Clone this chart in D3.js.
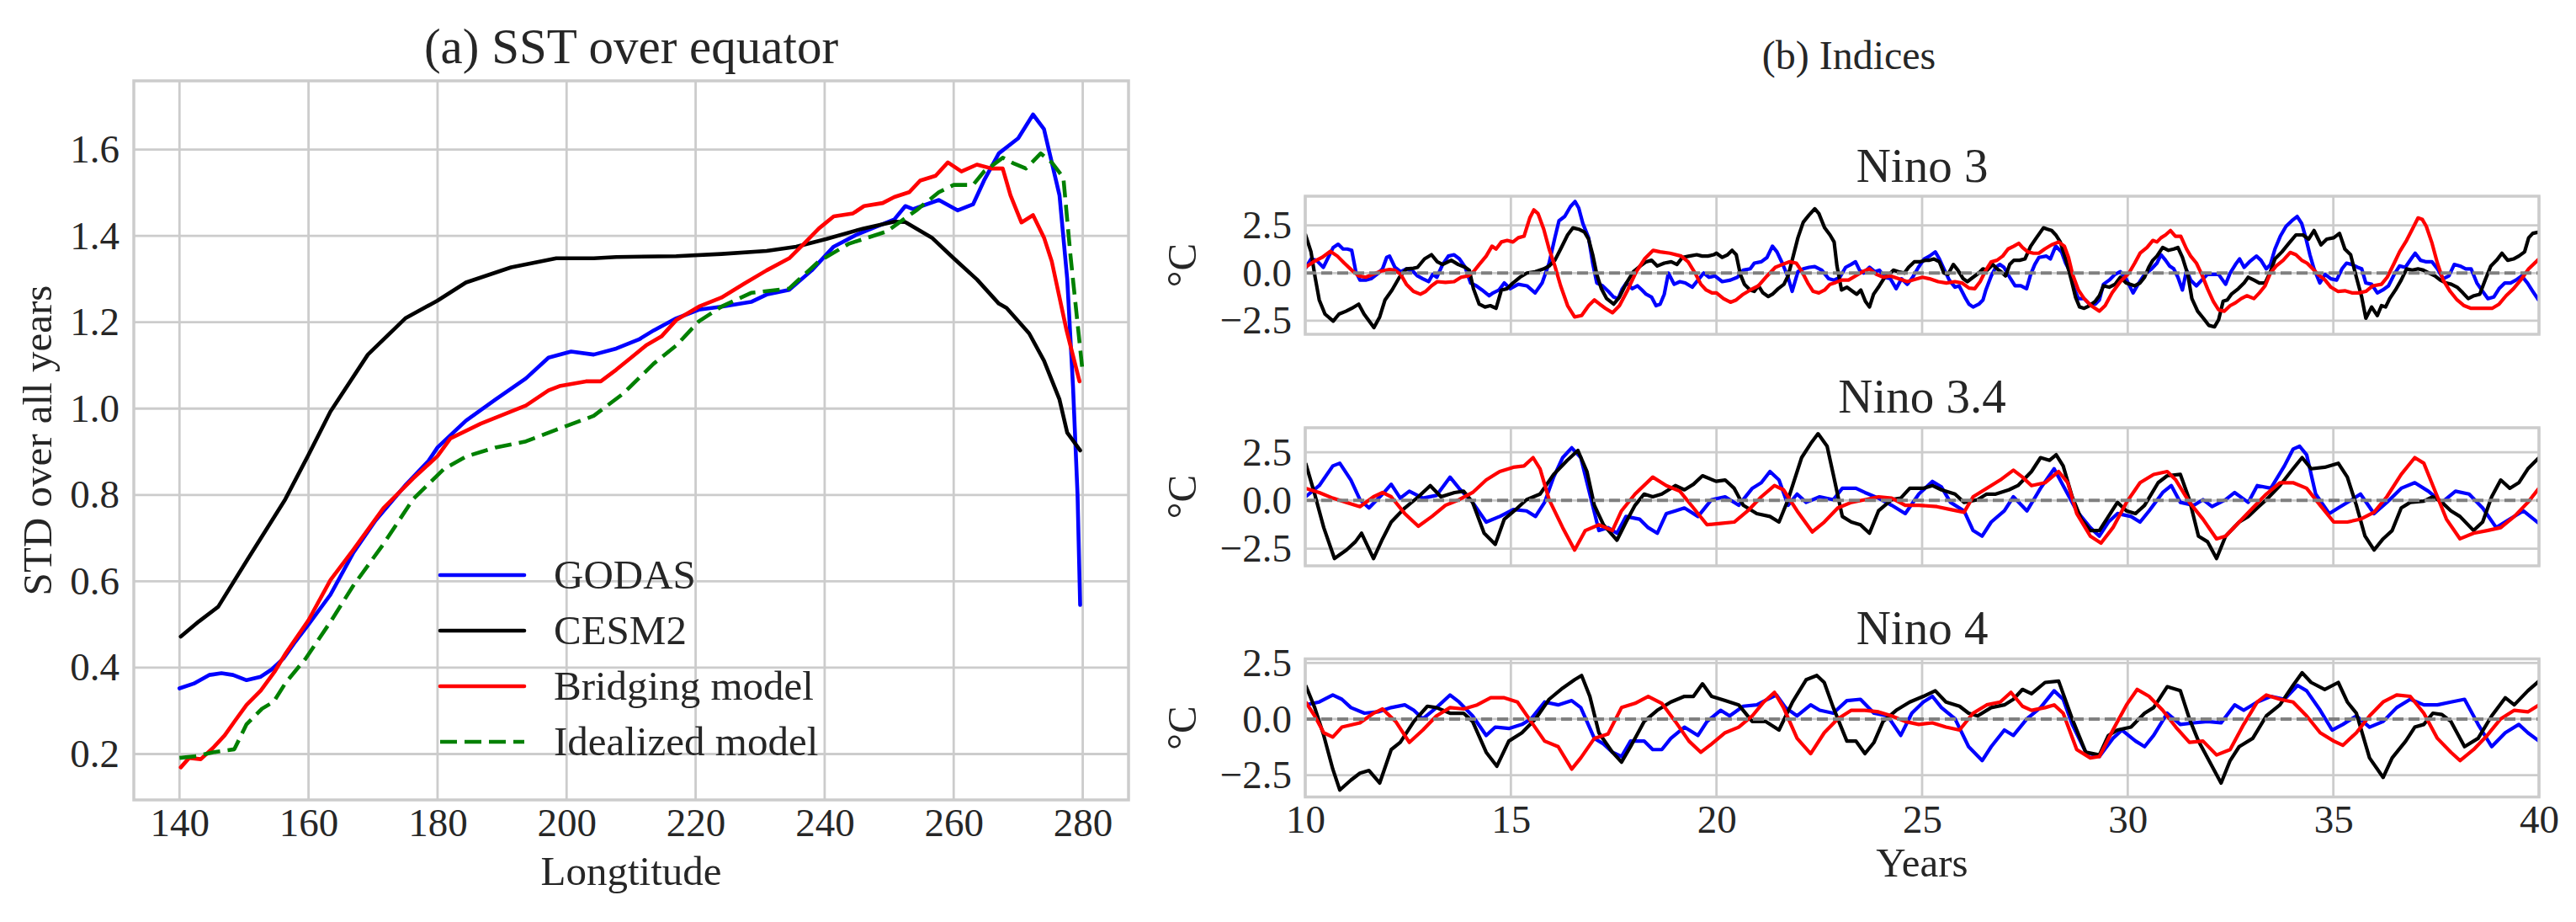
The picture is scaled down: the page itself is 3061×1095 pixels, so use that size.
<!DOCTYPE html>
<html><head><meta charset="utf-8">
<script src="https://cdn.jsdelivr.net/npm/d3@7"></script>
<style>
body{margin:0;background:#fff}
svg{display:block}
text{font-family:"Liberation Serif","Times New Roman",serif;fill:#262626}
</style>
</head><body>
<svg id="chart" width="3061" height="1095"></svg>
<script>
// ---------------- DATA: panel (a) ----------------
const seriesNames = ["GODAS", "CESM2", "Bridging model", "Idealized model"];
const lonTicks = [140, 160, 180, 200, 220, 240, 260, 280];
const stdTicks = [0.2, 0.4, 0.6, 0.8, 1.0, 1.2, 1.4, 1.6];

const godasLon = [140,142.2,144.6,146.5,148.3,150.4,152.6,154.3,156.1,157.8,160,163.4,166.9,170.4,175.1,178.6,180,184.4,189,193.7,197.2,200.7,204.2,207.7,211.2,213.5,217,220.5,224,228.6,231,234.5,238,241.4,245,247.3,250.8,252.5,253.7,257.7,260.6,263,264.7,267,270,272.3,274,276.4,277.6,278.5,279.2,279.6];
const godasStd = [0.352,0.363,0.383,0.387,0.383,0.371,0.379,0.396,0.421,0.457,0.50,0.569,0.665,0.741,0.824,0.879,0.91,0.972,1.021,1.07,1.118,1.132,1.125,1.139,1.16,1.181,1.209,1.229,1.236,1.247,1.264,1.275,1.32,1.375,1.403,1.417,1.438,1.469,1.462,1.483,1.459,1.473,1.528,1.591,1.626,1.681,1.647,1.494,1.30,1.05,0.80,0.545];

const cesmLon = [140.2,143,146,150.6,156.4,160,163.4,169.2,175,180,184.4,191.4,198.4,204.2,207.7,217,224,231,235.6,240.3,246,250.8,252.5,256.6,260,263.6,267,268.2,271.7,274,276.4,277.6,279.6];
const cesmStd = [0.472,0.507,0.541,0.652,0.79,0.893,0.993,1.125,1.209,1.25,1.292,1.327,1.348,1.348,1.351,1.353,1.358,1.365,1.375,1.393,1.417,1.433,1.432,1.396,1.348,1.299,1.243,1.233,1.174,1.111,1.021,0.944,0.903];

const bridgeLon = [140.2,141.5,143.3,145.2,147,148.7,150.4,152.6,154.8,156.5,160,163.4,166.9,171.6,176.2,180,182,186.7,190.2,193.7,197.2,198.9,203,205.3,207.7,210,212.3,214.7,217,220.5,224,227.5,231,234.5,236.8,239.1,241.4,244.4,246.1,249,250.8,253.1,254.8,257.2,259.1,261.2,263.6,265.9,267.6,268.8,270.5,272.3,274,275.2,277.5,279.5];
const bridgeStd = [0.169,0.191,0.188,0.214,0.243,0.279,0.314,0.347,0.392,0.434,0.51,0.603,0.672,0.769,0.838,0.89,0.931,0.965,0.986,1.007,1.042,1.052,1.063,1.063,1.09,1.118,1.146,1.167,1.205,1.236,1.257,1.289,1.32,1.348,1.382,1.417,1.445,1.452,1.469,1.476,1.49,1.501,1.528,1.539,1.57,1.549,1.565,1.556,1.556,1.494,1.431,1.448,1.396,1.341,1.181,1.063];

const idealLon = [140,142.6,145.2,147,148.5,150.4,152.8,154.6,156.5,159.5,163.4,166.9,171.6,176.2,180.9,184.4,189,193.7,198.4,204.2,208.8,213.5,217,220.5,224,228.6,234.5,239.1,243.8,249.6,254.2,257.7,260,263,264.7,267.6,269.4,271.2,273.5,275.2,277,278.1,279.9];
const idealStd = [0.191,0.195,0.204,0.208,0.211,0.269,0.305,0.321,0.366,0.42,0.506,0.589,0.686,0.79,0.859,0.889,0.91,0.924,0.951,0.983,1.035,1.104,1.146,1.202,1.236,1.268,1.278,1.341,1.382,1.41,1.459,1.501,1.518,1.518,1.549,1.581,1.567,1.556,1.591,1.57,1.535,1.355,1.097];

// ---------------- DATA: panel (b) ----------------
const indexNames = ["Nino 3", "Nino 3.4", "Nino 4"];
const yearTicks = [10, 15, 20, 25, 30, 35, 40];
const degTicks = [-2.5, 0, 2.5];

const nino3Godas = [[10,0.22],[10.14,0.74],[10.27,0.67],[10.44,0.3],[10.68,1.34],[10.8,1.51],[10.92,1.26],[11.02,1.26],[11.13,1.19],[11.23,0.07],[11.33,-0.37],[11.47,-0.37],[11.6,-0.3],[11.74,-0.07],[11.88,0.22],[11.98,0.82],[12.05,0.89],[12.18,0.3],[12.32,0.07],[12.46,0.22],[12.63,0.07],[12.73,-0.15],[12.86,-0.3],[13.0,-0.45],[13.1,-0.07],[13.2,-0.22],[13.34,0.45],[13.48,0.89],[13.62,0.96],[13.75,0.74],[13.89,0.3],[14.02,-0.52],[14.16,-0.67],[14.3,-0.89],[14.47,-1.19],[14.57,-1.04],[14.71,-0.89],[14.84,-0.52],[14.98,-0.82],[15.18,-0.59],[15.39,-0.67],[15.59,-1.04],[15.76,-0.52],[15.93,0.52],[16.07,1.85],[16.17,2.74],[16.31,2.97],[16.45,3.49],[16.56,3.75],[16.65,3.41],[16.75,2.6],[16.89,1.85],[16.99,0.52],[17.09,-0.52],[17.23,-0.67],[17.37,-0.96],[17.5,-1.26],[17.61,-1.34],[17.71,-0.82],[17.81,-0.52],[17.95,-0.82],[18.08,-0.67],[18.19,-0.89],[18.29,-1.11],[18.42,-1.26],[18.53,-1.71],[18.63,-1.63],[18.73,-1.11],[18.83,0],[18.97,-0.59],[19.11,-0.45],[19.24,-0.52],[19.41,-0.74],[19.55,-0.37],[19.69,0],[19.82,-0.22],[19.96,-0.15],[20.14,-0.45],[20.34,-0.37],[20.51,-0.22],[20.65,0.15],[20.82,0.22],[20.92,0.52],[21.09,0.59],[21.23,0.82],[21.36,1.41],[21.47,1.11],[21.6,0.52],[21.74,-0.22],[21.84,-0.96],[21.98,0.07],[22.11,0.22],[22.25,0.3],[22.39,0.34],[22.56,0.15],[22.73,-0.3],[22.86,-0.37],[23.0,-0.22],[23.14,0.3],[23.27,0.45],[23.38,0.59],[23.48,0.15],[23.58,0],[23.72,0.3],[23.85,0.07],[23.96,0.15],[24.09,-0.22],[24.23,-0.3],[24.37,-0.82],[24.5,-0.3],[24.64,-0.59],[24.77,-0.22],[24.91,0.3],[25.05,0.74],[25.18,0.89],[25.32,1.11],[25.42,0.74],[25.53,0.22],[25.66,-0.37],[25.8,-0.74],[25.9,-0.67],[26.04,-1.26],[26.14,-1.63],[26.24,-1.78],[26.38,-1.63],[26.48,-1.41],[26.55,-0.89],[26.68,-0.15],[26.79,0.3],[26.89,0.45],[26.99,0.3],[27.13,-0.22],[27.26,-0.67],[27.4,-0.67],[27.54,-0.82],[27.64,-0.07],[27.74,0.45],[27.84,0.82],[28.02,0.89],[28.12,0.74],[28.19,1.11],[28.25,1.41],[28.39,1.11],[28.49,0.52],[28.6,0.07],[28.7,-0.82],[28.8,-1.34],[28.94,-1.34],[29.07,-1.63],[29.21,-1.63],[29.31,-1.41],[29.41,-0.59],[29.55,-0.37],[29.69,-0.07],[29.82,0.07],[29.96,-0.3],[30.13,-1.04],[30.27,-0.52],[30.41,-0.07],[30.58,0.22],[30.71,0.52],[30.81,0.96],[30.92,0.67],[31.02,0.37],[31.12,0.22],[31.22,-0.22],[31.33,-0.89],[31.43,0.15],[31.53,-0.37],[31.67,-0.67],[31.8,-0.37],[31.94,-0.07],[32.08,-0.07],[32.21,-0.07],[32.38,-0.59],[32.49,0],[32.62,0.45],[32.72,0.74],[32.83,0.3],[32.96,0.59],[33.13,0.89],[33.24,0.67],[33.37,0.22],[33.47,0.45],[33.58,1.26],[33.71,1.93],[33.85,2.45],[33.99,2.74],[34.12,2.97],[34.23,2.6],[34.33,1.85],[34.43,0.96],[34.53,0.22],[34.67,-0.52],[34.8,-0.07],[34.94,-0.3],[35.08,-0.37],[35.21,0.22],[35.32,0.52],[35.45,0.45],[35.59,0.3],[35.69,0.22],[35.79,-0.52],[35.93,-0.59],[36.07,-1.04],[36.2,-0.89],[36.34,-0.67],[36.48,-0.07],[36.61,0.37],[36.75,0.3],[36.89,0.74],[36.99,1.04],[37.12,0.67],[37.26,0.59],[37.4,0.59],[37.53,0.22],[37.67,-0.3],[37.81,-0.15],[37.94,0.45],[38.08,0.37],[38.22,0.22],[38.35,0.22],[38.49,-0.52],[38.63,-0.96],[38.76,-1.34],[38.9,-1.26],[39.03,-0.82],[39.17,-0.52],[39.31,-0.52],[39.44,-0.37],[39.58,-0.15],[39.72,-0.52],[39.85,-0.96],[40,-1.45]];
const nino3Cesm = [[10,2.05],[10.14,1.11],[10.24,-0.22],[10.34,-1.41],[10.48,-2.15],[10.68,-2.52],[10.82,-2.15],[10.99,-2.0],[11.13,-1.85],[11.3,-1.63],[11.43,-2.15],[11.67,-2.86],[11.81,-2.3],[11.94,-1.41],[12.11,-0.89],[12.29,-0.22],[12.46,0.22],[12.63,0.25],[12.73,0.3],[12.9,0.74],[13.07,0.96],[13.21,0.59],[13.34,0.45],[13.55,0.67],[13.72,0.45],[13.89,0.3],[13.99,0.15],[14.09,-0.82],[14.23,-1.63],[14.37,-1.78],[14.5,-1.71],[14.64,-1.85],[14.77,-0.89],[14.91,-0.82],[15.05,-0.52],[15.22,-0.22],[15.39,0],[15.59,0.07],[15.8,0.22],[15.93,0.37],[16.07,0.67],[16.21,1.26],[16.38,2.0],[16.51,2.37],[16.65,2.3],[16.79,2.15],[16.89,1.78],[16.99,0.96],[17.09,-0.07],[17.2,-0.82],[17.33,-1.34],[17.5,-1.63],[17.64,-1.26],[17.81,-0.52],[17.98,0.07],[18.15,0.37],[18.29,0.59],[18.42,0.67],[18.56,0.37],[18.73,0.52],[18.9,0.59],[19.04,0.45],[19.17,0.82],[19.34,0.89],[19.52,0.96],[19.65,0.89],[19.79,0.89],[19.93,0.96],[20.0,1.04],[20.14,0.82],[20.27,0.96],[20.38,1.19],[20.48,0.96],[20.58,-0.07],[20.68,-0.59],[20.82,-0.89],[20.92,-0.96],[21.02,-0.67],[21.13,-1.04],[21.26,-1.23],[21.36,-1.11],[21.5,-0.82],[21.64,-0.59],[21.74,-0.15],[21.84,0.67],[21.98,1.85],[22.11,2.67],[22.25,3.04],[22.39,3.37],[22.49,3.12],[22.63,2.37],[22.76,2.0],[22.86,1.63],[22.93,0.37],[23.04,-0.89],[23.17,-0.74],[23.31,-0.96],[23.41,-1.11],[23.51,-0.89],[23.62,-1.48],[23.72,-1.78],[23.82,-1.11],[23.96,-0.67],[24.09,-0.22],[24.2,-0.07],[24.3,0.15],[24.43,0.07],[24.57,0],[24.67,0.3],[24.81,0.59],[24.95,0.59],[25.08,0.67],[25.18,0.67],[25.29,0.74],[25.42,0.59],[25.53,0],[25.63,-0.07],[25.76,0.45],[25.87,0.15],[26.0,-0.3],[26.1,-0.45],[26.24,-0.22],[26.38,0],[26.48,0.22],[26.58,0.15],[26.72,0.45],[26.82,0.22],[26.92,0.07],[27.03,-0.15],[27.13,0.45],[27.23,0.67],[27.37,0.67],[27.5,0.74],[27.64,1.41],[27.78,1.85],[27.95,2.37],[28.05,2.3],[28.15,2.23],[28.25,2.0],[28.36,1.63],[28.49,0.74],[28.63,-0.37],[28.73,-1.26],[28.83,-1.78],[28.94,-1.85],[29.07,-1.71],[29.21,-1.48],[29.31,-1.19],[29.41,-0.67],[29.55,-0.74],[29.69,-0.59],[29.82,-0.22],[29.96,-0.52],[30.17,-0.67],[30.3,-0.52],[30.41,-0.22],[30.51,0.3],[30.61,0.67],[30.71,0.89],[30.85,1.34],[30.99,1.19],[31.12,1.26],[31.22,1.34],[31.33,0.82],[31.46,-0.07],[31.56,-1.34],[31.7,-2.0],[31.84,-2.37],[31.97,-2.74],[32.11,-2.82],[32.21,-2.45],[32.32,-1.48],[32.42,-1.41],[32.52,-1.11],[32.69,-0.82],[32.83,-0.52],[32.93,-0.22],[33.07,-0.37],[33.2,-0.52],[33.34,-0.52],[33.47,0.07],[33.58,0.74],[33.75,1.11],[33.92,1.56],[34.09,2.0],[34.26,2.0],[34.4,1.78],[34.53,2.23],[34.7,1.48],[34.84,1.78],[35.01,1.85],[35.15,2.08],[35.28,1.26],[35.42,0.96],[35.56,-0.22],[35.69,-1.26],[35.79,-2.37],[35.93,-1.78],[36.07,-2.23],[36.17,-1.71],[36.27,-1.78],[36.37,-1.34],[36.51,-0.89],[36.65,-0.37],[36.78,0.22],[36.92,0.15],[37.06,0.22],[37.19,0.15],[37.33,0],[37.47,-0.15],[37.6,-0.37],[37.74,-0.52],[37.87,-0.59],[38.01,-0.74],[38.15,-1.04],[38.28,-1.34],[38.42,-1.19],[38.56,-1.11],[38.69,-0.37],[38.83,0.37],[38.97,0.67],[39.1,1.04],[39.24,0.67],[39.38,0.74],[39.51,0.89],[39.65,1.11],[39.75,1.85],[39.85,2.08],[40,2.15]];
const nino3Bridge = [[10,0.3],[10.2,0.59],[10.41,0.82],[10.61,1.14],[10.78,0.89],[10.95,0.52],[11.13,0.15],[11.3,-0.15],[11.47,-0.22],[11.64,-0.07],[11.84,0.1],[12.05,0.19],[12.18,0.15],[12.32,-0.07],[12.46,-0.59],[12.63,-0.96],[12.8,-1.11],[12.93,-0.96],[13.07,-0.67],[13.21,-0.45],[13.41,-0.49],[13.62,-0.45],[13.79,-0.22],[13.96,-0.15],[14.09,0.07],[14.23,0.45],[14.4,0.89],[14.54,1.41],[14.64,1.26],[14.77,1.63],[14.91,1.71],[15.05,1.63],[15.18,1.85],[15.32,1.93],[15.46,2.89],[15.56,3.31],[15.66,3.12],[15.8,2.3],[15.93,1.26],[16.07,0.37],[16.21,-0.67],[16.38,-1.71],[16.55,-2.3],[16.72,-2.23],[16.89,-1.71],[17.03,-1.41],[17.16,-1.63],[17.3,-1.85],[17.47,-2.08],[17.64,-1.71],[17.84,-0.89],[18.05,0.07],[18.25,0.74],[18.46,1.19],[18.63,1.11],[18.87,1.04],[19.14,0.89],[19.31,0.59],[19.48,0],[19.62,-0.59],[19.75,-0.89],[19.89,-1.04],[20.0,-1.04],[20.17,-1.34],[20.34,-1.53],[20.48,-1.41],[20.65,-1.11],[20.82,-0.89],[21.02,-0.67],[21.23,-0.15],[21.43,0.3],[21.6,0.45],[21.77,0.59],[21.94,0.52],[22.08,0.07],[22.22,-0.52],[22.35,-0.96],[22.49,-1.04],[22.63,-0.89],[22.76,-0.59],[22.9,-0.49],[23.04,-0.37],[23.21,-0.37],[23.38,-0.15],[23.55,0.07],[23.72,0.22],[23.89,-0.07],[24.06,-0.22],[24.23,-0.15],[24.43,-0.3],[24.64,-0.45],[24.81,-0.34],[25.01,-0.22],[25.18,-0.3],[25.39,-0.45],[25.59,-0.52],[25.8,-0.45],[25.97,-0.52],[26.14,-0.79],[26.28,-0.82],[26.41,-0.45],[26.55,0.15],[26.68,0.59],[26.82,0.67],[26.96,0.89],[27.09,1.26],[27.23,1.41],[27.35,1.56],[27.44,1.34],[27.57,1.11],[27.71,1.04],[27.84,1.04],[27.98,1.26],[28.15,1.48],[28.32,1.63],[28.46,1.41],[28.56,0.82],[28.66,-0.07],[28.8,-0.89],[28.94,-1.34],[29.11,-1.71],[29.31,-2.0],[29.45,-1.71],[29.62,-1.04],[29.82,-0.45],[30.03,0],[30.17,0.52],[30.3,1.04],[30.47,1.34],[30.61,1.71],[30.71,1.63],[30.81,1.85],[30.92,2.0],[31.04,2.23],[31.16,1.93],[31.29,1.93],[31.43,1.26],[31.53,0.89],[31.67,0.52],[31.8,-0.07],[31.94,-0.82],[32.08,-1.48],[32.21,-1.93],[32.35,-2.0],[32.49,-1.71],[32.62,-1.56],[32.76,-1.34],[32.9,-1.19],[33.07,-1.34],[33.2,-1.04],[33.34,-0.67],[33.47,0],[33.61,0.37],[33.78,0.67],[33.95,1.08],[34.09,0.96],[34.23,0.67],[34.36,0.52],[34.5,0.22],[34.63,-0.07],[34.8,-0.37],[34.94,-0.74],[35.11,-0.96],[35.28,-0.93],[35.45,-1.04],[35.62,-1.04],[35.79,-0.96],[35.96,-0.67],[36.17,-0.59],[36.31,-0.22],[36.48,0.52],[36.61,1.11],[36.78,1.71],[36.92,2.3],[37.06,2.89],[37.16,2.82],[37.26,2.45],[37.4,1.56],[37.53,0.52],[37.67,-0.37],[37.84,-0.96],[38.01,-1.41],[38.18,-1.71],[38.35,-1.85],[38.52,-1.85],[38.69,-1.85],[38.86,-1.85],[39.03,-1.63],[39.2,-1.19],[39.38,-0.82],[39.58,-0.3],[39.75,0.22],[40,0.74]];

const nino34Godas = [[10.01,0.19],[10.34,0.77],[10.67,1.79],[10.84,1.93],[11.11,1.06],[11.33,0.04],[11.55,-0.39],[11.88,0.33],[12.09,0.84],[12.31,0.12],[12.53,0.48],[12.86,0.12],[13.19,0.26],[13.52,1.21],[13.74,0.63],[14.07,-0.1],[14.4,-1.12],[14.73,-0.83],[15.06,-0.47],[15.38,-0.54],[15.6,-0.83],[15.82,-0.1],[16.04,1.21],[16.26,2.22],[16.48,2.73],[16.7,2.22],[16.92,0.33],[17.14,-1.56],[17.36,-1.41],[17.58,-1.7],[17.8,-0.83],[18.13,-0.97],[18.34,-1.41],[18.56,-1.7],[18.78,-0.68],[19.0,-0.54],[19.22,-0.39],[19.55,-0.83],[19.88,0.04],[20.21,0.19],[20.54,-0.25],[20.87,0.63],[21.09,0.92],[21.3,1.5],[21.52,1.06],[21.74,-0.25],[21.96,0.33],[22.18,-0.1],[22.51,0.19],[22.84,0.04],[23.06,0.63],[23.39,0.63],[23.61,0.41],[23.94,0.12],[24.26,-0.25],[24.59,-0.68],[24.92,0.33],[25.25,0.99],[25.47,0.7],[25.69,-0.1],[26.02,-0.54],[26.24,-1.56],[26.46,-1.85],[26.68,-1.12],[27.0,-0.54],[27.22,0.19],[27.55,-0.54],[27.88,0.63],[28.21,1.64],[28.43,0.77],[28.76,-0.54],[29.09,-1.41],[29.31,-1.85],[29.53,-1.12],[29.75,-0.68],[30.08,-0.83],[30.3,-1.12],[30.52,-0.54],[30.85,0.41],[31.06,0.77],[31.28,-0.1],[31.61,-0.25],[31.83,0.04],[32.05,-0.32],[32.38,0.04],[32.6,0.41],[32.93,-0.1],[33.15,0.77],[33.48,0.63],[33.81,1.79],[34.02,2.66],[34.18,2.81],[34.35,2.37],[34.57,0.33],[34.9,-0.68],[35.12,-0.39],[35.45,0.04],[35.66,0.33],[35.99,-0.68],[36.3,-0.1],[36.65,0.63],[36.98,0.92],[37.31,0.48],[37.64,-0.1],[37.97,0.48],[38.3,0.33],[38.63,-0.39],[38.96,-1.41],[39.29,-0.97],[39.62,-0.54],[40,-1.19]];
const nino34Cesm = [[10.01,1.93],[10.23,0.33],[10.45,-1.41],[10.71,-3.01],[11.0,-2.57],[11.22,-2.14],[11.37,-1.7],[11.66,-3.01],[11.88,-1.99],[12.09,-1.12],[12.42,-0.39],[12.75,0.19],[13.04,0.77],[13.3,0.19],[13.63,0.41],[13.85,0.48],[14.07,-0.1],[14.35,-1.7],[14.62,-2.28],[14.84,-0.97],[15.16,-0.39],[15.38,0.04],[15.71,0.33],[16.04,1.35],[16.37,2.08],[16.63,2.59],[16.85,1.5],[17.03,-0.25],[17.25,-1.26],[17.58,-2.06],[17.8,-1.12],[18.02,-0.25],[18.24,0.33],[18.45,0.19],[18.67,0.33],[19.0,0.77],[19.22,0.55],[19.44,0.84],[19.66,1.28],[19.99,0.99],[20.21,1.06],[20.43,0.63],[20.65,-0.25],[20.98,-0.68],[21.3,-0.83],[21.52,-1.12],[21.74,0.04],[22.07,2.22],[22.29,2.95],[22.47,3.46],[22.69,2.81],[22.84,1.35],[23.06,-0.83],[23.28,-1.12],[23.5,-1.26],[23.72,-1.7],[23.94,-0.54],[24.26,0.04],[24.48,0.12],[24.7,0.63],[25.03,0.63],[25.25,0.77],[25.47,0.55],[25.8,0.33],[26.02,-0.1],[26.35,0.04],[26.57,0.33],[26.79,0.33],[27.11,0.55],[27.33,0.77],[27.66,1.5],[27.88,2.22],[28.1,2.08],[28.26,2.37],[28.43,1.79],[28.65,0.19],[28.87,-0.97],[29.09,-1.56],[29.31,-1.56],[29.53,-0.83],[29.75,-0.1],[29.97,-0.54],[30.19,-0.68],[30.41,-0.25],[30.74,0.92],[30.96,1.28],[31.28,1.35],[31.5,0.04],[31.72,-1.85],[31.94,-2.14],[32.16,-3.01],[32.38,-1.85],[32.71,-1.12],[32.93,-0.83],[33.15,-0.39],[33.37,0.04],[33.7,0.77],[34.02,1.64],[34.24,2.22],[34.46,1.64],[34.79,1.72],[35.12,1.93],[35.34,1.21],[35.56,-0.25],[35.77,-1.85],[35.99,-2.57],[36.21,-1.99],[36.43,-1.56],[36.65,-0.39],[36.87,-0.1],[37.2,-0.03],[37.42,0.19],[37.64,-0.1],[37.86,-0.54],[38.08,-0.83],[38.41,-1.56],[38.63,-1.12],[38.85,0.19],[39.07,1.06],[39.29,0.63],[39.51,0.92],[39.73,1.64],[40,2.22]];
const nino34Bridge = [[10.01,0.63],[10.34,0.41],[10.67,0.12],[11.0,-0.1],[11.33,-0.32],[11.66,0.19],[11.88,0.41],[12.09,0.19],[12.42,-0.68],[12.75,-1.34],[13.08,-0.83],[13.41,-0.25],[13.74,0.04],[14.07,0.41],[14.4,1.06],[14.73,1.5],[15.06,1.72],[15.32,1.79],[15.54,2.22],[15.71,1.64],[15.93,0.04],[16.26,-1.41],[16.55,-2.57],[16.81,-1.56],[17.14,-1.26],[17.47,-1.56],[17.69,-0.54],[18.02,0.33],[18.45,1.21],[18.78,0.77],[19.11,0.48],[19.44,-0.39],[19.77,-1.26],[20.1,-1.19],[20.43,-1.12],[20.76,-0.54],[21.09,0.19],[21.41,0.77],[21.63,0.55],[21.96,-0.54],[22.33,-1.63],[22.62,-1.12],[22.95,-0.39],[23.28,-0.1],[23.61,0.04],[23.94,0.19],[24.26,0.12],[24.59,-0.25],[24.92,-0.25],[25.36,-0.32],[25.69,-0.47],[26.02,-0.61],[26.24,0.19],[26.57,0.63],[26.9,1.06],[27.22,1.57],[27.44,1.21],[27.66,0.77],[27.99,0.92],[28.32,1.5],[28.54,0.92],[28.76,-0.68],[29.09,-1.85],[29.35,-2.21],[29.64,-1.41],[29.97,-0.1],[30.3,0.92],[30.63,1.35],[30.96,1.5],[31.17,1.06],[31.5,-0.1],[31.83,-0.97],[32.16,-1.99],[32.38,-1.85],[32.71,-1.12],[33.04,-0.39],[33.37,0.33],[33.7,0.92],[34.02,0.92],[34.35,0.63],[34.68,-0.25],[35.01,-1.12],[35.34,-1.12],[35.66,-0.97],[35.99,-0.61],[36.3,0.19],[36.65,1.35],[36.98,2.22],[37.2,1.93],[37.42,0.77],[37.75,-0.97],[38.08,-1.99],[38.41,-1.7],[38.74,-1.56],[39.07,-1.41],[39.4,-0.83],[39.73,-0.1],[40,0.63]];

const nino4Godas = [[10.01,0.63],[10.34,0.76],[10.67,1.07],[10.89,0.88],[11.11,0.51],[11.44,0.26],[11.77,0.32],[12.09,0.51],[12.42,0.63],[12.64,0.39],[12.86,0.01],[13.19,0.51],[13.52,1.07],[13.74,0.76],[14.07,0.14],[14.4,-0.73],[14.62,-0.36],[14.95,-0.42],[15.27,-0.24],[15.49,0.01],[15.82,0.76],[16.15,0.63],[16.48,0.82],[16.7,0.51],[17.03,-0.86],[17.25,-1.11],[17.47,-1.48],[17.69,-1.67],[17.91,-0.98],[18.24,-0.98],[18.45,-1.36],[18.67,-1.36],[18.89,-0.86],[19.22,-0.36],[19.55,-0.73],[19.77,-0.11],[20.1,0.39],[20.32,0.14],[20.65,0.57],[20.98,0.63],[21.24,0.88],[21.46,1.07],[21.68,0.51],[21.96,0.14],[22.29,0.63],[22.51,0.39],[22.84,0.26],[23.17,0.82],[23.5,0.88],[23.83,0.26],[24.16,0.14],[24.48,-0.73],[24.75,0.26],[25.03,0.76],[25.25,1.01],[25.47,0.51],[25.8,0.01],[26.13,-1.23],[26.46,-1.85],[26.68,-1.23],[27.0,-0.49],[27.22,-0.73],[27.55,0.01],[27.88,0.51],[28.21,1.26],[28.43,0.88],[28.65,-0.24],[28.98,-1.48],[29.31,-1.67],[29.64,-0.86],[29.86,-0.49],[30.19,-0.98],[30.41,-1.23],[30.63,-0.73],[30.96,0.26],[31.28,-0.24],[31.61,-0.17],[31.94,-0.11],[32.27,-0.17],[32.6,0.63],[32.82,0.39],[33.15,0.76],[33.48,1.01],[33.81,0.88],[34.13,1.5],[34.35,1.26],[34.68,0.39],[34.97,-0.49],[35.23,-0.24],[35.56,0.14],[35.88,-0.36],[36.21,-0.11],[36.54,0.51],[36.87,0.88],[37.2,0.63],[37.53,0.63],[37.86,0.76],[38.19,0.88],[38.52,-0.24],[38.85,-1.23],[39.18,-0.61],[39.51,-0.24],[39.73,-0.61],[40,-0.98]];
const nino4Cesm = [[10.01,1.5],[10.23,0.51],[10.45,-0.73],[10.67,-2.23],[10.84,-3.16],[11.11,-2.72],[11.33,-2.41],[11.55,-2.29],[11.81,-2.85],[12.09,-1.36],[12.31,-1.04],[12.64,-0.11],[12.97,0.57],[13.19,0.51],[13.52,0.26],[13.85,0.26],[14.07,-0.11],[14.4,-1.48],[14.66,-2.1],[14.95,-0.98],[15.27,-0.61],[15.6,0.01],[15.93,0.88],[16.26,1.38],[16.55,1.75],[16.72,1.94],[16.92,1.01],[17.14,-0.61],[17.47,-1.48],[17.69,-1.92],[17.91,-1.23],[18.24,-0.11],[18.56,0.39],[18.89,0.76],[19.22,1.01],[19.44,1.01],[19.66,1.57],[19.88,1.01],[20.21,0.82],[20.54,0.63],[20.87,-0.11],[21.2,-0.11],[21.52,-0.49],[21.85,0.76],[22.18,1.75],[22.44,1.94],[22.62,1.63],[22.84,0.51],[23.17,-0.98],[23.39,-0.98],[23.61,-1.54],[23.83,-1.04],[24.05,-0.11],[24.37,0.39],[24.7,0.76],[25.03,1.01],[25.32,1.26],[25.58,0.76],[25.91,0.57],[26.13,0.26],[26.35,0.14],[26.68,0.51],[27.0,0.63],[27.22,0.88],[27.44,1.32],[27.66,1.13],[27.99,1.63],[28.32,1.69],[28.65,0.01],[28.98,-1.48],[29.31,-1.6],[29.53,-0.73],[29.75,-0.49],[30.08,-0.36],[30.41,0.26],[30.63,0.51],[30.96,1.44],[31.28,1.26],[31.5,0.01],[31.72,-0.98],[31.94,-1.73],[32.27,-2.85],[32.49,-1.85],[32.71,-1.23],[33.04,-0.86],[33.37,0.14],[33.7,0.63],[34.02,1.5],[34.24,2.06],[34.46,1.63],[34.79,1.32],[35.12,1.63],[35.34,0.76],[35.56,0.26],[35.88,-1.73],[36.21,-2.6],[36.43,-1.73],[36.76,-0.98],[36.98,-0.36],[37.2,-0.24],[37.42,0.26],[37.64,0.2],[37.86,-0.11],[38.19,-1.23],[38.52,-0.86],[38.85,0.14],[39.18,0.95],[39.4,0.63],[39.73,1.26],[40,1.69]];
const nino4Bridge = [[10.01,0.76],[10.23,0.14],[10.45,-0.61],[10.67,-0.8],[10.89,-0.36],[11.33,-0.17],[11.66,0.26],[11.88,0.45],[12.2,-0.11],[12.53,-1.04],[12.86,-0.49],[13.19,0.14],[13.52,0.51],[13.85,0.45],[14.18,0.63],[14.51,0.95],[14.84,0.95],[15.16,0.76],[15.49,-0.11],[15.82,-0.98],[16.15,-1.23],[16.48,-2.23],[16.7,-1.73],[17.03,-0.86],[17.36,-0.67],[17.69,0.51],[18.02,0.7],[18.34,1.01],[18.67,0.7],[19.0,-0.11],[19.33,-0.98],[19.62,-1.48],[19.88,-1.11],[20.21,-0.61],[20.54,-0.36],[20.87,0.14],[21.15,0.76],[21.41,1.19],[21.63,0.51],[21.96,-0.86],[22.29,-1.54],[22.62,-0.61],[22.95,0.01],[23.28,0.39],[23.61,0.39],[23.94,0.32],[24.26,0.14],[24.59,-0.11],[24.92,-0.24],[25.25,-0.17],[25.58,-0.36],[25.91,-0.49],[26.24,0.26],[26.57,0.63],[26.9,0.76],[27.16,1.19],[27.44,0.57],[27.66,0.39],[27.99,0.51],[28.21,0.63],[28.43,0.26],[28.76,-1.36],[29.09,-1.73],[29.31,-1.67],[29.64,-0.49],[29.97,0.63],[30.23,1.32],[30.52,1.01],[30.85,0.39],[31.17,-0.36],[31.5,-1.04],[31.83,-0.98],[32.16,-1.6],[32.49,-1.36],[32.82,-0.24],[33.15,0.76],[33.37,1.07],[33.7,0.88],[34.02,0.76],[34.35,0.14],[34.68,-0.61],[35.01,-0.98],[35.23,-1.17],[35.56,-0.61],[35.88,0.14],[36.21,0.76],[36.54,1.07],[36.87,1.01],[37.2,0.26],[37.53,-0.86],[37.86,-1.48],[38.08,-1.85],[38.41,-1.36],[38.74,-0.73],[39.07,0.01],[39.4,0.39],[39.73,0.32],[40,0.63]];

// ---------------- STYLE / LAYOUT ----------------
const colors = {godas: "#0000ff", cesm: "#000000", bridge: "#ff0000", ideal: "#008000"};
const gridColor = "#cccccc";
const textColor = "#262626";
const FONT = '"Liberation Serif","Times New Roman",serif';

const svg = d3.select("#chart");
const defs = svg.append("defs");

function gridLines(g, x, y, xt, yt, x0, x1, y0, y1) {
  g.append("g").selectAll("line").data(xt).join("line")
    .attr("x1", d => x(d)).attr("x2", d => x(d)).attr("y1", y0).attr("y2", y1)
    .attr("stroke", gridColor).attr("stroke-width", 2.8);
  g.append("g").selectAll("line").data(yt).join("line")
    .attr("x1", x0).attr("x2", x1).attr("y1", d => y(d)).attr("y2", d => y(d))
    .attr("stroke", gridColor).attr("stroke-width", 2.8);
}
function frame(g, x0, x1, y0, y1) {
  g.append("rect").attr("x", x0).attr("y", y0).attr("width", x1 - x0).attr("height", y1 - y0)
    .attr("fill", "none").attr("stroke", gridColor).attr("stroke-width", 3.5);
}

// ---------------- PANEL (a) ----------------
const A = {x0: 159, x1: 1341, y0: 96, y1: 950};
const xA = d3.scaleLinear().domain([132.92, 287.1]).range([A.x0, A.x1]);
const yA = d3.scaleLinear().domain([0.0937, 1.759]).range([A.y1, A.y0]);
const gA = svg.append("g");
gridLines(gA, xA, yA, lonTicks, stdTicks, A.x0, A.x1, A.y0, A.y1);

defs.append("clipPath").attr("id", "clipA").append("rect")
  .attr("x", A.x0).attr("y", A.y0).attr("width", A.x1 - A.x0).attr("height", A.y1 - A.y0);

const lineA = d3.line().x(d => xA(d[0])).y(d => yA(d[1]));
const seriesA = [
  {lon: godasLon, v: godasStd, c: colors.godas, dash: null},
  {lon: cesmLon, v: cesmStd, c: colors.cesm, dash: null},
  {lon: bridgeLon, v: bridgeStd, c: colors.bridge, dash: null},
  {lon: idealLon, v: idealStd, c: colors.ideal, dash: "20,9"}
];
const linesA = gA.append("g").attr("clip-path", "url(#clipA)");
seriesA.forEach(s => {
  linesA.append("path").datum(d3.zip(s.lon, s.v)).attr("d", lineA)
    .attr("fill", "none").attr("stroke", s.c).attr("stroke-width", 4.6)
    .attr("stroke-linejoin", "round").attr("stroke-linecap", s.dash ? "butt" : "round")
    .attr("stroke-dasharray", s.dash);
});
frame(gA, A.x0, A.x1, A.y0, A.y1);

const axAx = gA.append("g").attr("transform", `translate(0,${A.y1})`)
  .call(d3.axisBottom(xA).tickValues(lonTicks).tickSize(0).tickPadding(10).tickFormat(d3.format("d")));
const axAy = gA.append("g").attr("transform", `translate(${A.x0},0)`)
  .call(d3.axisLeft(yA).tickValues(stdTicks).tickSize(0).tickPadding(17).tickFormat(d3.format(".1f")));
[axAx, axAy].forEach(a => {
  a.select(".domain").remove();
  a.selectAll("text").attr("font-size", 47).attr("font-family", FONT).attr("fill", textColor);
});

gA.append("text").attr("x", (A.x0 + A.x1) / 2).attr("y", 75).attr("text-anchor", "middle")
  .attr("font-size", 59).text("(a) SST over equator");
gA.append("text").attr("x", (A.x0 + A.x1) / 2).attr("y", 1051).attr("text-anchor", "middle")
  .attr("font-size", 49).text("Longtitude");
gA.append("text").attr("transform", `translate(61,${(A.y0 + A.y1) / 2}) rotate(-90)`)
  .attr("text-anchor", "middle").attr("font-size", 49).text("STD over all years");

// legend
const legend = gA.append("g");
const legY0 = 683, legStep = 66;
seriesA.forEach((s, i) => {
  const yy = legY0 + i * legStep;
  legend.append("line").attr("x1", 523).attr("x2", 623).attr("y1", yy).attr("y2", yy)
    .attr("stroke", s.c).attr("stroke-width", 4.6).attr("stroke-dasharray", s.dash)
    .attr("stroke-linecap", s.dash ? "butt" : "round");
  legend.append("text").attr("x", 658).attr("y", yy + 16).attr("font-size", 49).text(seriesNames[i]);
});

// ---------------- PANEL (b) ----------------
const B = {x0: 1551, x1: 3017};
const xB = d3.scaleLinear().domain([10, 40]).range([B.x0, B.x1]);
const panels = [
  {name: indexNames[0], top: 233, bottom: 397, dom: [-3.21, 4.03], titleY: 216, data: [nino3Godas, nino3Cesm, nino3Bridge]},
  {name: indexNames[1], top: 508, bottom: 672, dom: [-3.39, 3.77], titleY: 490, data: [nino34Godas, nino34Cesm, nino34Bridge]},
  {name: indexNames[2], top: 782.5, bottom: 946.5, dom: [-3.47, 2.68], titleY: 765, data: [nino4Godas, nino4Cesm, nino4Bridge]}
];
const seriesColorsB = [colors.godas, colors.cesm, colors.bridge];

svg.append("text").attr("x", 2197).attr("y", 82).attr("text-anchor", "middle")
  .attr("font-size", 48).text("(b) Indices");

panels.forEach((p, pi) => {
  const g = svg.append("g");
  const y = d3.scaleLinear().domain(p.dom).range([p.bottom, p.top]);
  gridLines(g, xB, y, yearTicks, degTicks, B.x0, B.x1, p.top, p.bottom);
  const cid = "clipB" + pi;
  defs.append("clipPath").attr("id", cid).append("rect")
    .attr("x", B.x0).attr("y", p.top).attr("width", B.x1 - B.x0).attr("height", p.bottom - p.top);
  const line = d3.line().x(d => xB(d[0])).y(d => y(d[1]));
  const lg = g.append("g").attr("clip-path", `url(#${cid})`);
  p.data.forEach((ser, si) => {
    lg.append("path").datum(ser).attr("d", line).attr("fill", "none")
      .attr("stroke", seriesColorsB[si]).attr("stroke-width", 4.2).attr("stroke-linejoin", "round");
  });
  lg.append("line").attr("x1", B.x0).attr("x2", B.x1).attr("y1", y(0)).attr("y2", y(0))
    .attr("stroke", "#808080").attr("stroke-width", 4).attr("stroke-dasharray", "13,6");
  frame(g, B.x0, B.x1, p.top, p.bottom);

  const ay = g.append("g").attr("transform", `translate(${B.x0},0)`)
    .call(d3.axisLeft(y).tickValues(degTicks).tickSize(0).tickPadding(16).tickFormat(d3.format(".1f")));
  ay.select(".domain").remove();
  ay.selectAll("text").attr("font-size", 47).attr("font-family", FONT).attr("fill", textColor);

  g.append("text").attr("x", (B.x0 + B.x1) / 2).attr("y", p.titleY).attr("text-anchor", "middle")
    .attr("font-size", 57).text(p.name);
  g.append("text").attr("transform", `translate(1421,${(p.top + p.bottom) / 2}) rotate(-90)`)
    .attr("text-anchor", "middle").attr("font-size", 49).text("°C");

  if (pi === panels.length - 1) {
    const ax = g.append("g").attr("transform", `translate(0,${p.bottom})`)
      .call(d3.axisBottom(xB).tickValues(yearTicks).tickSize(0).tickPadding(9.5).tickFormat(d3.format("d")));
    ax.select(".domain").remove();
    ax.selectAll("text").attr("font-size", 47).attr("font-family", FONT).attr("fill", textColor);
    g.append("text").attr("x", (B.x0 + B.x1) / 2).attr("y", 1041).attr("text-anchor", "middle")
      .attr("font-size", 49).text("Years");
  }
});
</script>
</body></html>
